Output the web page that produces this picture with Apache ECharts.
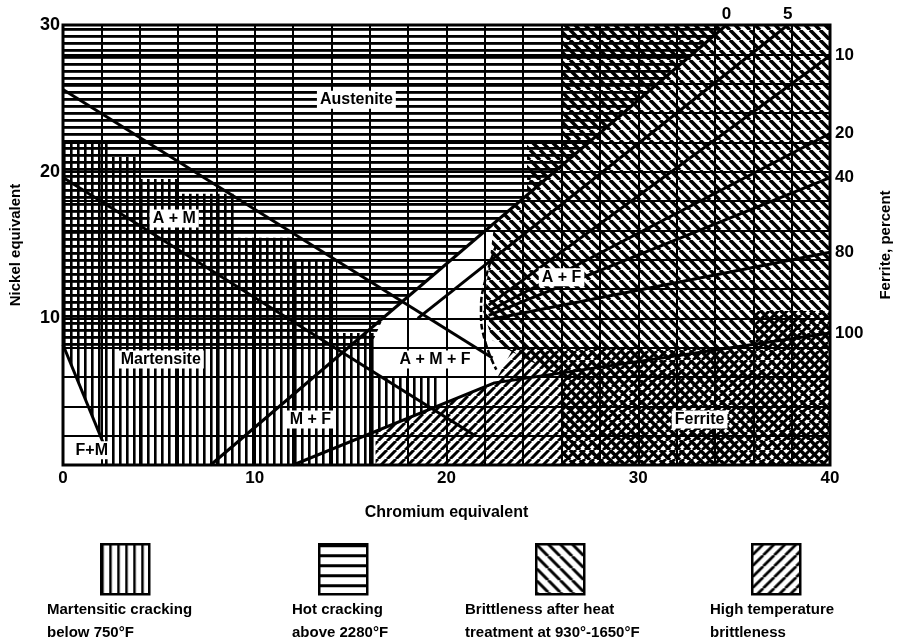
<!DOCTYPE html>
<html>
<head>
<meta charset="utf-8">
<script src="https://cdn.jsdelivr.net/npm/echarts@6/dist/echarts.min.js"></script>
<style>html,body{margin:0;padding:0;background:#fff}#chart{width:901px;height:644px}</style>
</head>
<body>
<div id="chart"></div>
<script>
// ---------- data (Chromium equivalent, Nickel equivalent) ----------
const xTickLabels = [0, 10, 20, 30, 40];
const yTickLabels = [10, 20, 30];
const ferritePercentLabels = ['0', '5', '10', '20', '40', '80', '100'];

// phase boundary lines
const lineAusteniteMartensite = [[0, 25.6], [22.4, 7.3]];
const lineMartensiteBoundary = [[0, 19.6], [21.5, 2.0]];
const lineFerriteMartensite = [[0, 8.2], [2.1, 1.5]];
const ferrite0 = [[7.7, 0], [34.6, 30]];
const ferrite5 = [[18.5, 10.0], [37.8, 30]];
const ferrite10 = [[22.2, 10.9], [40, 27.9]];
const ferrite20 = [[22.2, 10.5], [40, 22.6]];
const ferrite40 = [[22.2, 10.2], [40, 19.6]];
const ferrite80 = [[22.2, 9.9], [40, 14.5]];
const ferrite100 = [[12, 0], [22.5, 5.6], [40, 9.0]];
const dashedBoundary = [[22.6, 15], [22.0, 12.5], [21.8, 10.5], [22.0, 8.5], [22.6, 6.5]];

// hazard zones (polygons)
const zoneMartensiticCracking = [[0, 8.2], [0, 22], [2.5, 22], [2.5, 21], [4, 21], [4, 19.5], [6, 19.5], [6, 18.5], [9, 18.5], [9, 15.5], [12, 15.5], [12, 14], [14.3, 14], [14.3, 9], [16.3, 9], [16.3, 6], [19.5, 6], [19.5, 3.95], [16.3, 2.3], [16.3, 0], [2.1, 0], [2.1, 1.5]];
const zoneHotCracking = [[0, 8], [0, 30], [34.6, 30], [16.7, 10.0], [16, 8]];
const zoneSigmaBrittleness = [[26, 30], [40, 30], [40, 0], [26, 0], [26, 6], [23, 8], [22.4, 8.5], [21.9, 10.5], [22.1, 12.5], [22.5, 16.5], [24.2, 18.4], [24.2, 22], [26, 22]];
const zoneHighTempBrittleness = [[16.3, 0], [16.3, 2.3], [22.5, 5.6], [23.5, 8], [36, 8], [36, 10.5], [40, 10.5], [40, 0]];

// region names
const regionNames = ['Austenite', 'A + M', 'Martensite', 'F+M', 'M + F', 'A + M + F', 'A + F', 'Ferrite'];
const regionX = [15.3, 5.8, 5.1, 1.5, 12.9, 19.4, 26.0, 33.2];
const regionY = [24.9, 16.8, 7.2, 1.0, 3.1, 7.2, 12.8, 3.1];

// legend
const legendTitles = ['Martensitic cracking\nbelow 750°F', 'Hot cracking\nabove 2280°F', 'Brittleness after heat\ntreatment at 930°-1650°F', 'High temperature\nbrittleness'];

// ---------- patterns ----------
function makePattern(kind, period, width) {
  const c = document.createElement('canvas');
  const ctx = c.getContext('2d');
  ctx.fillStyle = '#000'; ctx.strokeStyle = '#000';
  if (kind === 'h') { c.width = 8; c.height = period; ctx.fillStyle = '#000'; ctx.fillRect(0, 0, 8, width); }
  else if (kind === 'v') { c.width = period; c.height = 8; ctx.fillStyle = '#000'; ctx.fillRect(0, 0, width, 8); }
  else {
    const s = period;
    c.width = s; c.height = s;
    ctx.strokeStyle = '#000';
    ctx.lineWidth = width;
    ctx.beginPath();
    for (let k = -1; k <= 1; k++) {
      if (kind === 'b') { ctx.moveTo(k * s, 0); ctx.lineTo(k * s + s, s); }
      else { ctx.moveTo(k * s, s); ctx.lineTo(k * s + s, 0); }
    }
    ctx.stroke();
  }
  return { image: c, repeat: 'repeat' };
}
const patV = makePattern('v', 7, 2.6), patH = makePattern('h', 7, 2.8), patB = makePattern('b', 10, 3.6), patF = makePattern('f', 9, 3.0);
const legV = makePattern('v', 8, 2.5), legH = makePattern('h', 10, 3), legB = makePattern('b', 12, 3), legF = makePattern('f', 11, 2.8);

const zones = [zoneMartensiticCracking, zoneHotCracking, zoneSigmaBrittleness, zoneHighTempBrittleness];
const zonePatterns = [patV, patH, patB, patF];

const boundaryLines = [lineAusteniteMartensite, lineMartensiteBoundary, lineFerriteMartensite];
const ferriteLines = [ferrite0, ferrite5, ferrite10, ferrite20, ferrite40, ferrite80, ferrite100];

const FONT = '"Liberation Sans", Arial, sans-serif';

const series = [];
series.push({
  type: 'custom', coordinateSystem: 'cartesian2d', silent: true, z: 1, clip: true,
  data: zones.map((z, i) => [i, 0]),
  renderItem: function (params, api) {
    const i = params.dataIndex;
    const pts = zones[i].map(p => api.coord(p));
    return { type: 'polygon', shape: { points: pts }, style: { fill: zonePatterns[i], stroke: null } };
  }
});
boundaryLines.concat(ferriteLines).forEach(l => {
  series.push({ type: 'line', data: l, showSymbol: false, symbol: 'none', silent: true, z: 3,
    lineStyle: { color: '#000', width: 3 } });
});
series.push({ type: 'line', data: dashedBoundary, showSymbol: false, symbol: 'none', smooth: true, silent: true, z: 3,
  lineStyle: { color: '#000', width: 2.5, type: [6, 3] } });
// region labels
series.push({
  type: 'custom', coordinateSystem: 'cartesian2d', silent: true, z: 6, clip: false,
  data: regionNames.map((n, i) => [regionX[i], regionY[i]]),
  renderItem: function (params, api) {
    const p = api.coord([api.value(0), api.value(1)]);
    return { type: 'text', x: p[0], y: p[1], z2: 10,
      style: { text: regionNames[params.dataIndex], fill: '#000', font: 'bold 16px ' + FONT,
        align: 'center', verticalAlign: 'middle', backgroundColor: '#fff', padding: [1, 3] } };
  }
});
// ferrite percent labels at line ends
series.push({
  type: 'custom', coordinateSystem: 'cartesian2d', silent: true, z: 6, clip: false,
  data: ferriteLines.map(l => l[l.length - 1]),
  renderItem: function (params, api) {
    const i = params.dataIndex;
    const p = api.coord([api.value(0), api.value(1)]);
    const top = i < 2;
    return { type: 'text', x: top ? p[0] : p[0] + 5, y: top ? p[1] - 11 : p[1],
      style: { text: ferritePercentLabels[i], fill: '#000', font: 'bold 17px ' + FONT,
        align: top ? 'center' : 'left', verticalAlign: 'middle' } };
  }
});

// legend graphics
const legendBoxX = [100, 318, 535, 751];
const legendTextX = [47, 292, 465, 710];
const legendPats = [legV, legH, legB, legF];
const graphic = [];
legendBoxX.forEach((x, i) => {
  graphic.push({ type: 'rect', left: x, top: 543, shape: { width: 48, height: 50 },
    style: { fill: legendPats[i], stroke: '#000', lineWidth: 2.5 } });
  graphic.push({ type: 'text', left: legendTextX[i], top: 598,
    style: { text: legendTitles[i], font: 'bold 15px ' + FONT, lineHeight: 23, fill: '#000' } });
});

const chart = echarts.init(document.getElementById('chart'));
chart.setOption({
  backgroundColor: '#fff',
  animation: false,
  grid: { left: 63, right: 63, top: 25, height: 440, show: true, borderColor: '#000', borderWidth: 3, backgroundColor: 'transparent' },
  xAxis: {
    type: 'value', min: 0, max: 40, interval: 2,
    name: 'Chromium equivalent', nameLocation: 'middle', nameGap: 40,
    nameTextStyle: { color: '#000', fontFamily: FONT, fontSize: 16, fontWeight: 'bold' },
    axisLine: { show: false }, axisTick: { show: false },
    splitLine: { show: true, lineStyle: { color: '#000', width: 2 } },
    axisLabel: { formatter: v => xTickLabels.includes(v) ? String(v) : '', color: '#000', fontFamily: FONT, fontSize: 17, fontWeight: 'bold', margin: 5, showMinLabel: true, showMaxLabel: true }
  },
  yAxis: [{
    type: 'value', min: 0, max: 30, interval: 2,
    name: 'Nickel equivalent', nameLocation: 'middle', nameGap: 40, nameRotate: 90,
    nameTextStyle: { color: '#000', fontFamily: FONT, fontSize: 15, fontWeight: 'bold' },
    axisLine: { show: false }, axisTick: { show: false },
    splitLine: { show: true, lineStyle: { color: '#000', width: 2 } },
    axisLabel: { formatter: v => yTickLabels.includes(v) ? String(v) : '', color: '#000', fontFamily: FONT, fontSize: 18, fontWeight: 'bold', margin: 3 }
  }, {
    type: 'value', min: 0, max: 30, interval: 2, position: 'right',
    name: 'Ferrite, percent', nameLocation: 'middle', nameGap: 48, nameRotate: 90,
    nameTextStyle: { color: '#000', fontFamily: FONT, fontSize: 15, fontWeight: 'bold' },
    axisLine: { show: false }, axisTick: { show: false }, axisLabel: { show: false }, splitLine: { show: false }
  }],
  graphic: graphic,
  series: series
});
</script>
</body>
</html>
